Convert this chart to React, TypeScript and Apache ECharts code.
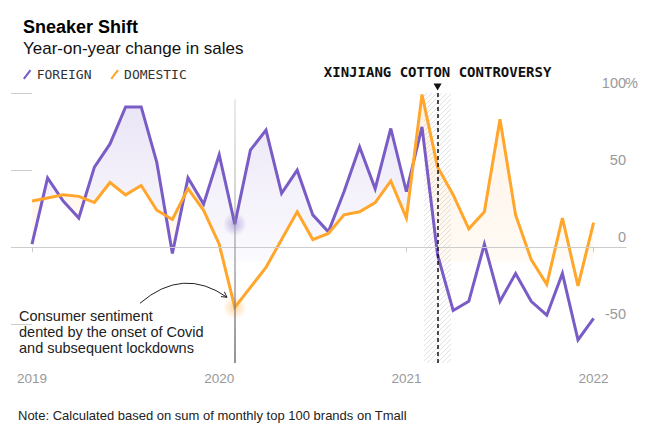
import React, { useEffect, useRef } from 'react';
import * as echarts from 'echarts';

const months = [
  '2019-01','2019-02','2019-03','2019-04','2019-05','2019-06','2019-07','2019-08','2019-09','2019-10','2019-11','2019-12',
  '2020-01','2020-02','2020-03','2020-04','2020-05','2020-06','2020-07','2020-08','2020-09','2020-10','2020-11','2020-12',
  '2021-01','2021-02','2021-03','2021-04','2021-05','2021-06','2021-07','2021-08','2021-09','2021-10','2021-11','2021-12',
  '2022-01',
];
const foreign = [2, 45, 30, 19, 52, 67, 91, 91, 55, -4, 45, 28, 60, 15, 63, 76, 35, 50, 21, 10, 36, 65, 38, 77, 36, 78, -5, -41, -35, 2, -35, -17, -35, -44, -17, -60, -46];
const domestic = [30, 32, 34, 33, 29, 42, 34, 40, 24, 18, 38, 24, 2, -39, -26, -13, 5, 23, 5, 9, 21, 23, 29, 43, 19, 99, 52, 34, 12, 23, 83, 21, -8, -24, 19, -25, 16];
const yearTicks = [0, 12, 24, 36];
const yearLabels = ['2019', '2020', '2021', '2022'];
const yTicks = [-50, 0, 50, 100];
const covidIndex = 13;
const xinjiangIndex = 26;
const hatchBand = [25.13, 26.87];
// annotation arrow: start, control, end (in data units)
const arrowStart = [6.92, -36.3];
const arrowCtrl = [9.68, -12.3];
const arrowEnd = [12.5, -32.4];

const PURPLE = '#7a5cc7';
const ORANGE = '#ffa62b';
const SANS = '"Liberation Sans", Arial, Helvetica, sans-serif';
const MONO = '"DejaVu Sans Mono", "Liberation Mono", monospace';

function makeHatch() {
  const c = document.createElement('canvas');
  c.width = 5; c.height = 5;
  const ctx = c.getContext('2d');
  if (ctx) {
    ctx.strokeStyle = 'rgba(190,190,190,0.45)';
    ctx.lineWidth = 1;
    ctx.beginPath(); ctx.moveTo(0, 5); ctx.lineTo(5, 0); ctx.stroke();
    ctx.beginPath(); ctx.moveTo(-1, 1); ctx.lineTo(1, -1); ctx.stroke();
    ctx.beginPath(); ctx.moveTo(4, 6); ctx.lineTo(6, 4); ctx.stroke();
  }
  return c;
}

export default function App() {
  const ref = useRef<HTMLDivElement>(null);
  useEffect(() => {
    document.body.style.margin = '0';
    if (!ref.current) return;
    const chart = echarts.init(ref.current, undefined, { renderer: 'svg' });

    const GRID_TOP = 93;
    const GRID_BOTTOM_PX = 447 - 84;
    const fadeEnd = 262;

    const pairs = (arr: number[]) => arr.map((v, i) => [i, v]);

    const purpleGrad = {
      type: 'linear', x: 0, y: GRID_TOP, x2: 0, y2: fadeEnd, global: true,
      colorStops: [
        { offset: 0, color: 'rgba(122,92,199,0.17)' },
        { offset: 0.6, color: 'rgba(122,92,199,0.08)' },
        { offset: 0.995, color: 'rgba(122,92,199,0.03)' },
        { offset: 1, color: 'rgba(122,92,199,0)' },
      ],
    };
    const orangeGrad = {
      type: 'linear', x: 0, y: GRID_TOP, x2: 0, y2: fadeEnd, global: true,
      colorStops: [
        { offset: 0, color: 'rgba(255,160,50,0.13)' },
        { offset: 0.995, color: 'rgba(255,160,50,0.05)' },
        { offset: 1, color: 'rgba(255,160,50,0)' },
      ],
    };
    const covidGrad = {
      type: 'linear', x: 0, y: 96, x2: 0, y2: GRID_BOTTOM_PX, global: true,
      colorStops: [
        { offset: 0, color: 'rgba(150,150,150,0.25)' },
        { offset: 0.5, color: 'rgba(140,140,140,0.6)' },
        { offset: 1, color: 'rgba(110,110,110,1)' },
      ],
    };

    const renderFill = (params: any, api: any) => {
      if (params.dataIndex !== 0) return null;
      const runs: { sign: number; f: number[][]; d: number[][] }[] = [];
      let cur: { sign: number; f: number[][]; d: number[][] } | null = null;
      for (let i = 0; i < foreign.length; i++) {
        const s = foreign[i] - domestic[i];
        const sign = s >= 0 ? 1 : -1;
        if (i > 0 && cur) {
          const sp = foreign[i - 1] - domestic[i - 1];
          if ((sp >= 0 ? 1 : -1) !== sign) {
            const t = sp / (sp - s);
            const xv = i - 1 + t;
            const yv = foreign[i - 1] + t * (foreign[i] - foreign[i - 1]);
            const X = api.coord([xv, yv]);
            cur.f.push(X); cur.d.push(X);
            runs.push(cur);
            cur = { sign, f: [X], d: [X] };
          }
        }
        if (!cur) cur = { sign, f: [], d: [] };
        cur.f.push(api.coord([i, foreign[i]]));
        cur.d.push(api.coord([i, domestic[i]]));
      }
      if (cur) runs.push(cur);
      return {
        type: 'group',
        children: runs.map((r) => ({
          type: 'polygon',
          shape: { points: r.f.concat(r.d.slice().reverse()) },
          style: { fill: r.sign > 0 ? purpleGrad : orangeGrad },
        })),
      };
    };

    const renderArrow = (params: any, api: any) => {
      if (params.dataIndex !== 0) return null;
      const S = api.coord(arrowStart);
      const C = api.coord(arrowCtrl);
      const E = api.coord(arrowEnd);
      const dx = E[0] - C[0];
      const dy = E[1] - C[1];
      const len = Math.sqrt(dx * dx + dy * dy) || 1;
      const ux = dx / len, uy = dy / len;
      const head = 6, spread = 0.5;
      const a1 = [E[0] - head * (ux * Math.cos(spread) - uy * Math.sin(spread)), E[1] - head * (uy * Math.cos(spread) + ux * Math.sin(spread))];
      const a2 = [E[0] - head * (ux * Math.cos(-spread) - uy * Math.sin(-spread)), E[1] - head * (uy * Math.cos(-spread) + ux * Math.sin(-spread))];
      return {
        type: 'group',
        children: [
          {
            type: 'bezierCurve',
            shape: { x1: S[0], y1: S[1], x2: E[0], y2: E[1], cpx1: C[0], cpy1: C[1] },
            style: { stroke: '#222', lineWidth: 1, fill: 'none' },
          },
          {
            type: 'polyline',
            shape: { points: [a1, E, a2] },
            style: { stroke: '#222', lineWidth: 1, fill: 'none' },
          },
        ],
      };
    };

    const option: any = {
      animation: false,
      textStyle: { fontFamily: SANS },
      title: {
        left: 18, top: 12, itemGap: 2,
        text: 'Sneaker Shift',
        subtext: 'Year-on-year change in sales',
        textStyle: { fontSize: 18, fontWeight: 'bold', color: '#000', lineHeight: 20, fontFamily: SANS },
        subtextStyle: { fontSize: 17, color: '#111', lineHeight: 19, fontFamily: SANS },
      },
      legend: {
        left: 18, top: 63, itemGap: 19, itemWidth: 9, itemHeight: 10,
        data: ['FOREIGN', 'DOMESTIC'],
        icon: 'path://M8,0 L10,1.6 L2,12 L0,10.4 Z',
        textStyle: { fontFamily: MONO, fontSize: 13, color: '#333' },
        selectedMode: false,
      },
      grid: { left: 18, right: 24, top: GRID_TOP, bottom: 84, outerBoundsMode: 'none' },
      xAxis: {
        type: 'value', min: -0.897, max: 38.077,
        splitLine: { show: false },
        axisLine: { lineStyle: { color: '#cccccc', width: 1 } },
        axisTick: { show: true, customValues: yearTicks, length: 5, lineStyle: { color: '#cccccc' } },
        axisLabel: {
          customValues: yearTicks, margin: 8, fontSize: 13.5, color: '#999',
          formatter: (v: number) => yearLabels[yearTicks.indexOf(v)] ?? '',
        },
      },
      yAxis: {
        type: 'value', min: -75, max: 100, position: 'right',
        splitLine: { show: false },
        axisLine: { show: false },
        axisTick: { show: true, inside: true, length: 21, customValues: yTicks, lineStyle: { color: '#cccccc' } },
        axisLabel: {
          customValues: yTicks, inside: true, margin: -11, align: 'right', verticalAlign: 'bottom',
          padding: [0, 0, 3, 0], fontSize: 14.5, color: '#999',
          formatter: (v: number) => (v === 100 ? '100{p|%}' : String(v) + '{s|}'),
          rich: {
            p: { width: 11, align: 'left', fontSize: 14.5, color: '#999', fontFamily: SANS },
            s: { width: 11, fontSize: 14.5 },
          },
        },
      },
      graphic: [
        {
          type: 'text', left: 19, top: 308,
          style: {
            text: 'Consumer sentiment\ndented by the onset of Covid\nand subsequent lockdowns',
            fontSize: 14.5, lineHeight: 16, fill: '#222', fontFamily: SANS,
          },
        },
        {
          type: 'text', left: 18, top: 409,
          style: {
            text: 'Note: Calculated based on sum of monthly top 100 brands on Tmall',
            fontSize: 13, fill: '#222', fontFamily: SANS,
          },
        },
      ],
      series: [
        {
          type: 'custom', name: 'fills', z: 1, silent: true,
          data: pairs(foreign), encode: { x: 0, y: 1 },
          renderItem: renderFill,
        },
        {
          type: 'line', name: 'refs', data: [], z: 2, silent: true, symbol: 'none',
          markLine: {
            silent: true, symbol: ['none', 'none'], label: { show: false },
            data: [
              { yAxis: 0, lineStyle: { color: '#cccccc', width: 1, type: 'solid' } },
              [
                { coord: [covidIndex, 96], lineStyle: { color: covidGrad, width: 1.5, type: 'solid' } },
                { coord: [covidIndex, -75] },
              ],
            ],
          },
          markArea: {
            silent: true,
            itemStyle: { color: { image: makeHatch(), repeat: 'repeat' } },
            data: [[{ xAxis: hatchBand[0] }, { xAxis: hatchBand[1] }]],
          },
        },
        {
          type: 'scatter', name: 'glowF', z: 3, silent: true, symbolSize: 24,
          data: [[covidIndex, foreign[covidIndex]]],
          itemStyle: {
            color: new echarts.graphic.RadialGradient(0.5, 0.5, 0.5, [
              { offset: 0, color: 'rgba(122,92,199,0.55)' },
              { offset: 1, color: 'rgba(122,92,199,0)' },
            ]),
          },
        },
        {
          type: 'scatter', name: 'glowD', z: 3, silent: true, symbolSize: 24,
          data: [[covidIndex, domestic[covidIndex]]],
          itemStyle: {
            color: new echarts.graphic.RadialGradient(0.5, 0.5, 0.5, [
              { offset: 0, color: 'rgba(255,166,43,0.55)' },
              { offset: 1, color: 'rgba(255,166,43,0)' },
            ]),
          },
        },
        {
          type: 'line', name: 'FOREIGN', z: 4, symbol: 'none', color: PURPLE,
          data: pairs(foreign),
          lineStyle: { color: PURPLE, width: 3, join: 'miter', miterLimit: 4 },
        },
        {
          type: 'line', name: 'DOMESTIC', z: 4, symbol: 'none', color: ORANGE,
          data: pairs(domestic),
          lineStyle: { color: ORANGE, width: 3, join: 'miter', miterLimit: 4 },
        },
        {
          type: 'line', name: 'annot', data: [], z: 5, silent: true, symbol: 'none',
          markLine: {
            silent: true, label: { show: false }, symbol: ['none', 'none'],
            lineStyle: { color: '#111', width: 1.5, type: [4, 3] },
            data: [
              [
                { coord: [xinjiangIndex, 100] },
                { coord: [xinjiangIndex, -75] },
              ],
            ],
          },
          markPoint: {
            silent: true,
            data: [
              {
                coord: [xinjiangIndex, 100], symbol: 'triangle', symbolRotate: 180, symbolSize: [8, 7],
                symbolOffset: [0, -6], itemStyle: { color: '#111' },
                label: {
                  show: true, position: 'top', distance: 5,
                  formatter: 'XINJIANG COTTON CONTROVERSY',
                  fontFamily: MONO, fontWeight: 'bold', fontSize: 14, color: '#111',
                },
              },
            ],
          },
        },
        {
          type: 'custom', name: 'arrow', z: 5, silent: true, clip: false,
          data: [[arrowEnd[0], arrowEnd[1]]], encode: { x: 0, y: 1 },
          renderItem: renderArrow,
        },
      ],
    };
    chart.setOption(option);
    return () => chart.dispose();
  }, []);
  return <div ref={ref} style={{ width: 650, height: 447 }} />;
}
